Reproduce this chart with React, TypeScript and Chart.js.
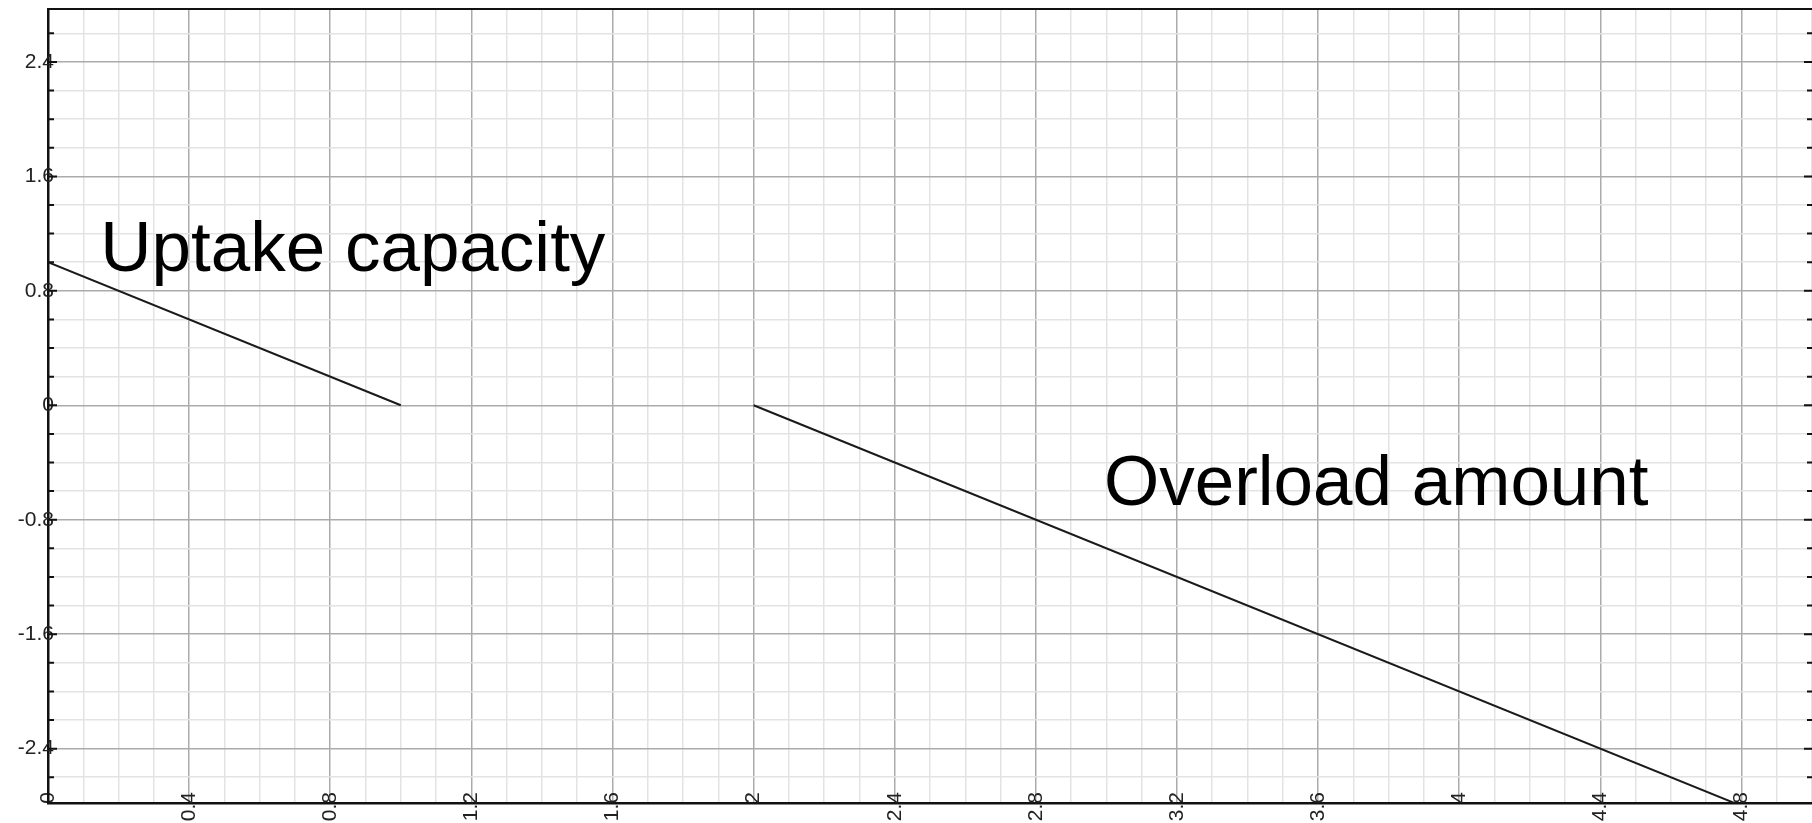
import React, { useEffect, useRef } from 'react';
import { Chart, registerables } from 'chart.js';

Chart.register(...registerables);

// ---- data ----
const uptakeX = [0, 1.0];
const uptakeY = [1.0, 0];
const overloadX = [2.0, 4.8];
const overloadY = [0, -2.8];

const xTickLabels = ['0', '0.4', '0.8', '1.2', '1.6', '2', '2.4', '2.8', '3.2', '3.6', '4', '4.4', '4.8'];
const yTickLabels = ['-2.4', '-1.6', '-0.8', '0', '0.8', '1.6', '2.4'];
const annotationTexts = ['Uptake capacity', 'Overload amount'];

// ---- axis settings ----
const X_MIN = 0;
const X_MAX = 5;
const X_MINOR = 0.1;
const X_MAJOR = 0.4;
const Y_MIN = -2.78;
const Y_MAX = 2.77;
const Y_MINOR = 0.2;
const Y_MAJOR = 0.8;

const FONT = '"Liberation Sans", Arial, Helvetica, sans-serif';
const MAJOR_GRID = '#ababab';
const MINOR_GRID = '#e3e3e3';
const AXIS_COLOR = '#111';

const isMultiple = (v: number, step: number) => Math.abs(v / step - Math.round(v / step)) < 1e-6;

const stepValues = (min: number, max: number, step: number) => {
  const out: number[] = [];
  const start = Math.ceil(min / step - 1e-9);
  const end = Math.floor(max / step + 1e-9);
  for (let k = start; k <= end; k++) out.push(Math.round(k * step * 1e6) / 1e6);
  return out;
};

const labelFor = (labels: string[], v: number) => {
  const found = labels.find((l) => Math.abs(parseFloat(l) - v) < 1e-6);
  return found === undefined ? '' : found;
};

// annotation placement (data coordinates, left/baseline)
const annotationPos = [
  { x: 0.148, y: 0.941 },
  { x: 2.993, y: -0.7 },
];

const framePlugin = {
  id: 'frameTicks',
  afterDraw(chart: any) {
    const { ctx, chartArea, scales } = chart;
    const ys = scales.y;
    const xs = scales.x;
    ctx.save();
    ctx.strokeStyle = AXIS_COLOR;
    // top border
    ctx.lineWidth = 2;
    ctx.beginPath();
    ctx.moveTo(chartArea.left, chartArea.top);
    ctx.lineTo(chartArea.right, chartArea.top);
    ctx.stroke();
    // inward ticks left & right
    ctx.lineWidth = 2;
    ys.ticks.forEach((t: any) => {
      const py = ys.getPixelForValue(t.value);
      const major = isMultiple(t.value, Y_MAJOR);
      const lenL = major ? 9 : 6;
      const lenR = major ? 8 : 5;
      ctx.beginPath();
      ctx.moveTo(chartArea.left, py);
      ctx.lineTo(chartArea.left + lenL, py);
      ctx.moveTo(chartArea.right, py);
      ctx.lineTo(chartArea.right - lenR, py);
      ctx.stroke();
    });
    // annotations
    ctx.fillStyle = '#000';
    ctx.font = `71px ${FONT}`;
    ctx.textAlign = 'left';
    ctx.textBaseline = 'alphabetic';
    annotationTexts.forEach((txt, i) => {
      const p = annotationPos[i];
      ctx.fillText(txt, xs.getPixelForValue(p.x), ys.getPixelForValue(p.y));
    });
    ctx.restore();
  },
};

// let tick labels overlap the plot frame like in the reference
const noLabelClip = (s: any) => {
  s._computeLabelArea = () => undefined;
};

export default function App() {
  const ref = useRef<HTMLCanvasElement>(null);

  useEffect(() => {
    if (!ref.current) return;
    const xTickValues = stepValues(X_MIN, X_MAX, X_MINOR);
    const yTickValues = stepValues(Y_MIN, Y_MAX, Y_MINOR);

    const chart = new Chart(ref.current, {
      type: 'scatter',
      data: {
        datasets: [
          {
            label: annotationTexts[0],
            data: uptakeX.map((x, i) => ({ x, y: uptakeY[i] })),
            showLine: true,
            borderColor: '#1a1a1a',
            borderWidth: 2,
            pointRadius: 0,
            fill: false,
          },
          {
            label: annotationTexts[1],
            data: overloadX.map((x, i) => ({ x, y: overloadY[i] })),
            showLine: true,
            borderColor: '#1a1a1a',
            borderWidth: 2,
            pointRadius: 0,
            fill: false,
          },
        ],
      },
      options: {
        animation: false,
        responsive: true,
        maintainAspectRatio: false,
        layout: { padding: { top: 9, left: 0, right: 0, bottom: 0 } },
        plugins: {
          legend: { display: false },
          tooltip: { enabled: false },
        },
        scales: {
          x: {
            type: 'linear',
            min: X_MIN,
            max: X_MAX,
            afterBuildTicks: (s: any) => {
              s.ticks = xTickValues.map((v) => ({ value: v }));
            },
            afterFit: (s: any) => {
              s.height = 20;
              s.paddingLeft = 0;
              s.paddingRight = 0;
            },
            afterUpdate: noLabelClip,
            grid: {
              drawTicks: false,
              color: (c: any) => (c.tick && isMultiple(c.tick.value, X_MAJOR) ? MAJOR_GRID : MINOR_GRID),
              lineWidth: 1.5,
            },
            border: { display: true, color: AXIS_COLOR, width: 2.5 },
            ticks: {
              autoSkip: false,
              minRotation: 90,
              maxRotation: 90,
              padding: -11,
              color: '#222',
              font: { family: FONT, size: 21 },
              callback: (v: any) => labelFor(xTickLabels, Number(v)),
            },
          },
          y: {
            type: 'linear',
            min: Y_MIN,
            max: Y_MAX,
            afterBuildTicks: (s: any) => {
              s.ticks = yTickValues.map((v) => ({ value: v }));
            },
            afterFit: (s: any) => {
              s.width = 48;
              s.paddingTop = 0;
              s.paddingBottom = 0;
            },
            afterUpdate: noLabelClip,
            grid: {
              drawTicks: false,
              color: (c: any) => (c.tick && isMultiple(c.tick.value, Y_MAJOR) ? MAJOR_GRID : MINOR_GRID),
              lineWidth: 1.5,
            },
            border: { display: true, color: AXIS_COLOR, width: 2.5 },
            ticks: {
              autoSkip: false,
              padding: -6,
              color: '#222',
              font: { family: FONT, size: 21 },
              callback: (v: any) => labelFor(yTickLabels, Number(v)),
            },
          },
        },
      },
      plugins: [framePlugin],
    } as any);

    return () => chart.destroy();
  }, []);

  return (
    <div
      style={{
        position: 'absolute',
        left: 0,
        top: 0,
        width: 1812,
        height: 823,
        background: '#fff',
      }}
    >
      <canvas ref={ref} />
    </div>
  );
}
